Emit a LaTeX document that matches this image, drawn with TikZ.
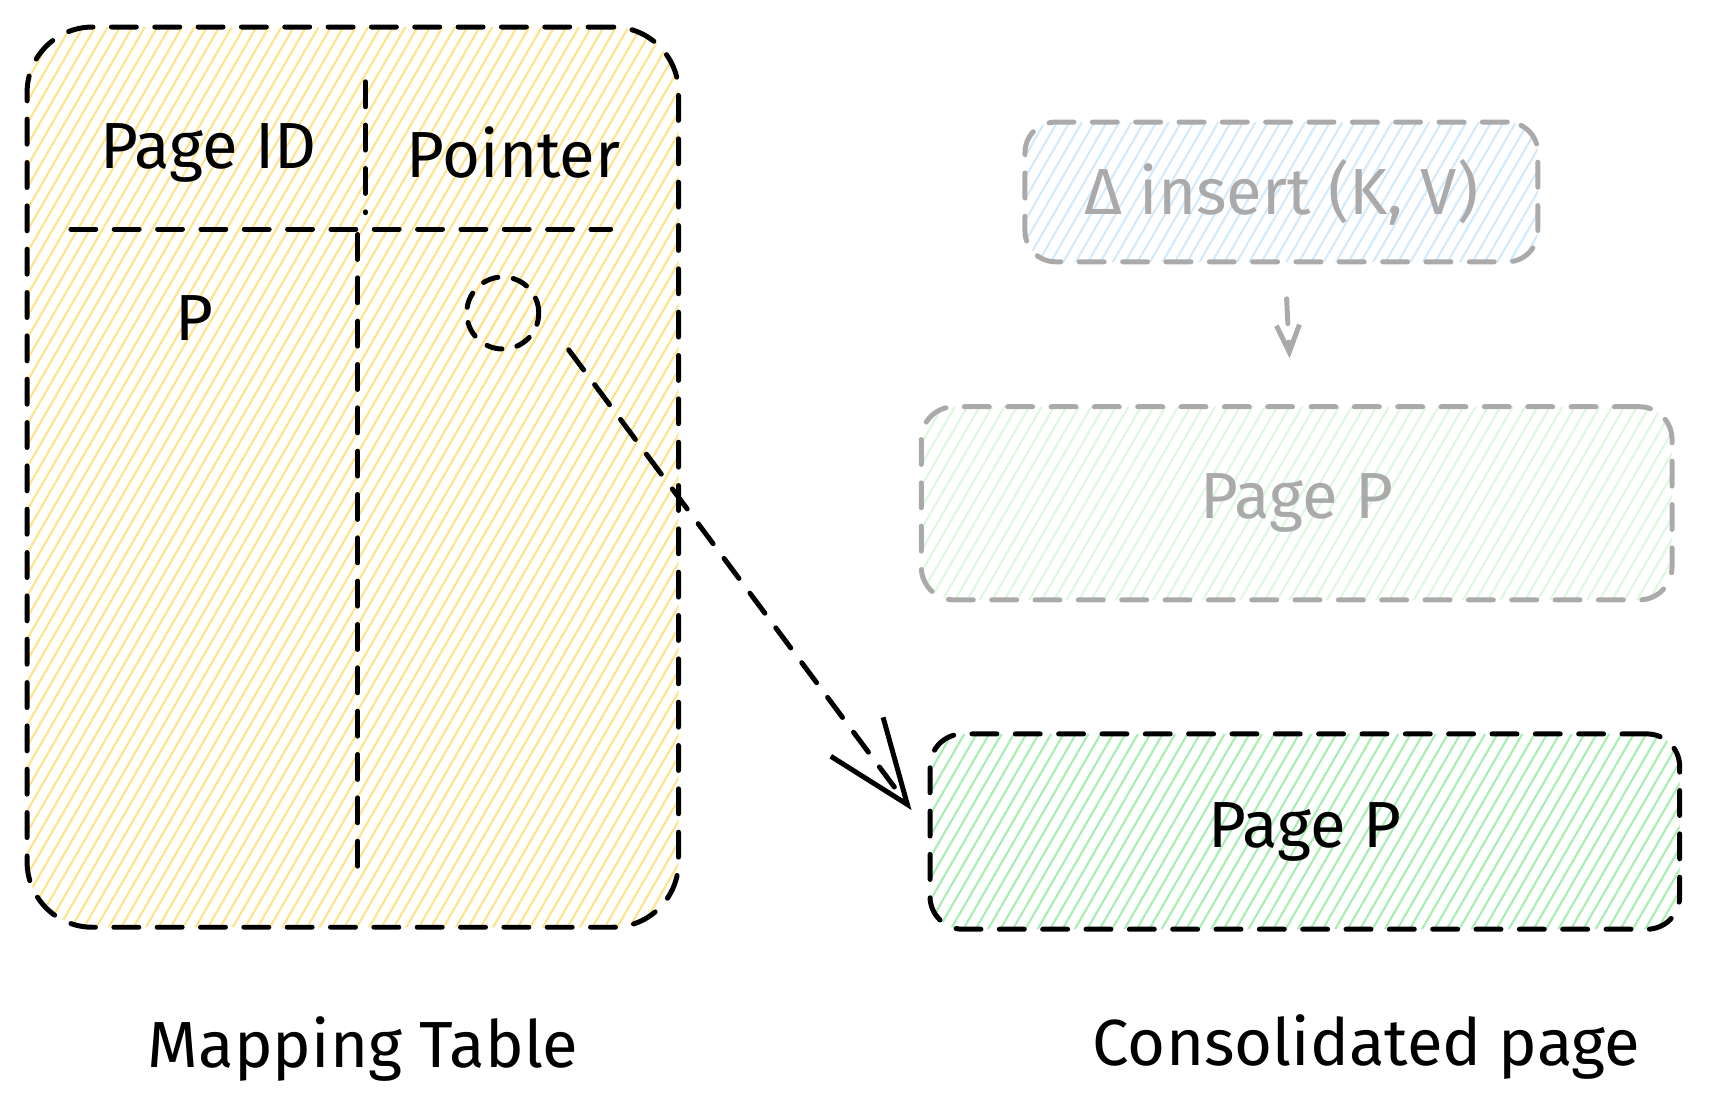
\documentclass[tikz,border=0pt]{standalone}
\usepackage{fontspec}
\setmainfont{Fira Sans}
\usetikzlibrary{patterns.meta,arrows.meta}

\definecolor{tableyellow}{HTML}{FFE38A}
\definecolor{pagegreen}{HTML}{A8EDB3}
\definecolor{fadegreen}{HTML}{DDF7E1}
\definecolor{fadeblue}{HTML}{D3EAFD}
\definecolor{fadegray}{HTML}{AAAAAA}

\begin{document}
\begin{tikzpicture}[x=0.01cm, y=-0.01cm]

%-------------------------------------------------
% Styles
%-------------------------------------------------
\tikzset{
  sketch/.style={draw=black, line width=1.3pt, dash pattern=on 6.5pt off 4.8pt, line cap=round},
  faded/.style={draw=fadegray, line width=1.3pt, dash pattern=on 6.5pt off 4.8pt, line cap=round},
  hatch/.style={pattern={Lines[angle=60, distance=2.8pt, line width=0.55pt]}, pattern color=#1},
  lbl/.style={font=\fontsize{17}{21}\selectfont},
  mtable/.style={sketch, hatch=tableyellow, rounded corners=0.6cm, minimum width=5.97cm, minimum height=8.25cm, inner sep=0pt},
  ptrcirc/.style={circle, draw=black, line width=1.3pt, dash pattern=on 4pt off 4pt, line cap=round, hatch=tableyellow, minimum size=0.66cm, inner sep=0pt},
  deltabox/.style={faded, hatch=fadeblue, rounded corners=0.28cm, minimum width=4.7cm, minimum height=1.28cm, lbl, text=fadegray},
  fadepage/.style={faded, hatch=fadegreen, rounded corners=0.3cm, minimum width=6.88cm, minimum height=1.77cm, lbl, text=fadegray},
  pagebox/.style={sketch, hatch=pagegreen, rounded corners=0.3cm, minimum width=6.87cm, minimum height=1.79cm, lbl}
}

\useasboundingbox (0,0) rectangle (1568,1023);

%-------------------------------------------------
% Mapping table
%-------------------------------------------------
\node[mtable] (MT) at (323.5,437.5) {};

% Column and header dividers
\draw[sketch] (335,75) -- (335,195);
\draw[sketch] (65,210) -- (560,210);
\draw[sketch] (328,215) -- (328,805);

\node[lbl] (PID) at (191,140) {Page ID};
\node[lbl] (PTR) at (471,140) {Pointer};
\node[lbl] (PV) at (178,292) {P};

% Pointer entry
\node[ptrcirc] (ptr) at (461,287) {};

%-------------------------------------------------
% Delta chain (faded)
%-------------------------------------------------
\node[deltabox] (D) at (1175,176) {Δ insert (K, V)};
\node[fadepage] (FP) at (1189,461.5) {Page P};

\draw[faded, -{Straight Barb[length=7pt, width=6pt]}, shorten <=9pt, shorten >=12pt] (D) -- (FP);

%-------------------------------------------------
% Consolidated page
%-------------------------------------------------
\node[pagebox] (PP) at (1196.5,762.5) {Page P};

\draw[sketch, -{Straight Barb[length=22pt, width=17pt]}, shorten <=12pt, shorten >=7pt] (ptr.east) -- (PP.west);

%-------------------------------------------------
% Captions
%-------------------------------------------------
\node[lbl] (MTL) at (333,962) {Mapping Table};
\node[lbl] (CPL) at (1253,960) {Consolidated page};

\end{tikzpicture}
\end{document}
